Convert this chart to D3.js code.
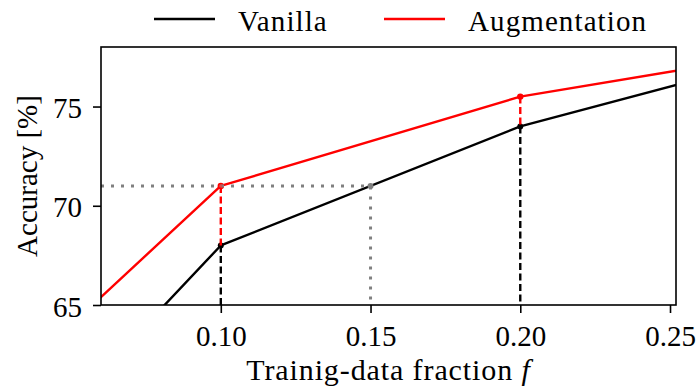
<!DOCTYPE html>
<html>
<head>
<meta charset="utf-8">
<script src="https://cdn.jsdelivr.net/npm/d3@7"></script>
<style>
  html, body { margin: 0; padding: 0; background: #fff; }
  svg { display: block; }
  text { font-family: "Liberation Serif", "Times New Roman", serif; fill: #000; }
</style>
</head>
<body>
<svg id="chart" width="699" height="390"></svg>
<script>
// Training-data fraction vs. accuracy
const fractions = [0.05, 0.10, 0.20, 0.30];
const vanilla = [60, 68, 74, 78];
const augmentation = [64, 71, 75.5, 78];

const xTicks = [0.10, 0.15, 0.20, 0.25];
const yTicks = [65, 70, 75];

const seriesNames = ["Vanilla", "Augmentation"];
const seriesColors = ["#000000", "#ff0000"];

// Highlighted comparison: augmentation at 0.10 equals vanilla at 0.15
const matchFrom = 0.10;
const matchTo = 0.15;
const matchValue = 71;

const svg = d3.select("#chart");
const margin = { top: 47, right: 23, bottom: 85, left: 101 };
const W = 699, H = 390;

const x = d3.scaleLinear().domain([0.06, 0.252]).range([margin.left, W - margin.right]);
const y = d3.scaleLinear().domain([65, 78]).range([H - margin.bottom, margin.top]);

svg.append("defs").append("clipPath").attr("id", "plot-clip")
  .append("rect")
  .attr("x", x.range()[0]).attr("y", y.range()[1])
  .attr("width", x.range()[1] - x.range()[0])
  .attr("height", y.range()[0] - y.range()[1]);

const plot = svg.append("g").attr("clip-path", "url(#plot-clip)");

const line = d3.line().x(d => x(d[0])).y(d => y(d[1]));
const vanillaPts = fractions.map((f, i) => [f, vanilla[i]]);
const augPts = fractions.map((f, i) => [f, augmentation[i]]);

plot.append("path").datum(vanillaPts)
  .attr("d", line).attr("fill", "none")
  .attr("stroke", seriesColors[0]).attr("stroke-width", 2.4)
  .attr("stroke-linejoin", "round");
plot.append("path").datum(augPts)
  .attr("d", line).attr("fill", "none")
  .attr("stroke", seriesColors[1]).attr("stroke-width", 2.4)
  .attr("stroke-linejoin", "round");

// Markers at the measured fractions inside the view
const shown = fractions.map((f, i) => i).filter(i => fractions[i] >= 0.1 && fractions[i] <= 0.2);
shown.forEach(i => {
  plot.append("circle").attr("cx", x(fractions[i])).attr("cy", y(vanilla[i]))
    .attr("r", 3).attr("fill", seriesColors[0]);
  plot.append("circle").attr("cx", x(fractions[i])).attr("cy", y(augmentation[i]))
    .attr("r", 3.2).attr("fill", seriesColors[1]);
});

// Vertical drop lines: red between the two curves, black down to the axis
shown.forEach(i => {
  plot.append("line")
    .attr("x1", x(fractions[i])).attr("x2", x(fractions[i]))
    .attr("y1", y(vanilla[i])).attr("y2", y.range()[0])
    .attr("stroke", "#000").attr("stroke-width", 2.4)
    .attr("stroke-dasharray", "7,3.5");
  plot.append("line")
    .attr("x1", x(fractions[i])).attr("x2", x(fractions[i]))
    .attr("y1", y(augmentation[i])).attr("y2", y(vanilla[i]))
    .attr("stroke", seriesColors[1]).attr("stroke-width", 2.4)
    .attr("stroke-dasharray", "7,3.5");
});

// Grey dotted guide from the matching accuracy
plot.append("path")
  .attr("d", `M${x.range()[0]},${y(matchValue)}H${x(matchTo)}V${y.range()[0]}`)
  .attr("fill", "none").attr("stroke", "#808080").attr("stroke-width", 3)
  .attr("stroke-dasharray", "3,7");
plot.append("circle").attr("cx", x(matchTo)).attr("cy", y(matchValue))
  .attr("r", 3).attr("fill", "#808080");
plot.append("circle").attr("cx", x(matchFrom)).attr("cy", y(matchValue))
  .attr("r", 1.6).attr("fill", "#d05050");

// Axes
const xAxis = svg.append("g")
  .attr("transform", `translate(0,${y.range()[0]})`)
  .call(d3.axisBottom(x).tickValues(xTicks).tickFormat(d3.format(".2f"))
    .tickSize(8).tickSizeOuter(0).tickPadding(12));
const yAxis = svg.append("g")
  .attr("transform", `translate(${x.range()[0]},0)`)
  .call(d3.axisLeft(y).tickValues(yTicks).tickFormat(d3.format("d"))
    .tickSize(8).tickSizeOuter(0).tickPadding(11));

[xAxis, yAxis].forEach(g => {
  g.select(".domain").remove();
  g.selectAll(".tick line").attr("stroke", "#000").attr("stroke-width", 1.6);
  g.selectAll(".tick text")
    .style("font-family", '"Liberation Serif", serif')
    .style("font-size", "29px").attr("fill", "#000");
});
xAxis.selectAll(".tick text").attr("dy", "0.71em");
yAxis.selectAll(".tick text").attr("dy", "0.38em");

// Frame
svg.append("rect")
  .attr("x", x.range()[0]).attr("y", y.range()[1])
  .attr("width", x.range()[1] - x.range()[0])
  .attr("height", y.range()[0] - y.range()[1])
  .attr("fill", "none").attr("stroke", "#000").attr("stroke-width", 1.6);

// Axis titles
const xLabel = svg.append("text")
  .attr("x", (x.range()[0] + x.range()[1]) / 2).attr("y", 380)
  .attr("text-anchor", "middle")
  .style("font-size", "30px").style("letter-spacing", "0.9px");
xLabel.append("tspan").text("Trainig-data fraction ");
xLabel.append("tspan").style("font-style", "italic").text("f");

svg.append("text")
  .attr("transform", `translate(37,${(y.range()[0] + y.range()[1]) / 2}) rotate(-90)`)
  .attr("text-anchor", "middle")
  .style("font-size", "29px")
  .text("Accuracy [%]");

// Legend
const legendX = [154, 384];
seriesNames.forEach((name, i) => {
  const g = svg.append("g").attr("transform", `translate(${legendX[i]},19)`);
  g.append("line").attr("x1", 0).attr("x2", 61).attr("y1", 0).attr("y2", 0)
    .attr("stroke", seriesColors[i]).attr("stroke-width", 2.4);
  g.append("text").attr("x", 84).attr("y", 11.5)
    .style("font-size", "29px").style("letter-spacing", "1.1px")
    .text(name);
});
</script>
</body>
</html>
